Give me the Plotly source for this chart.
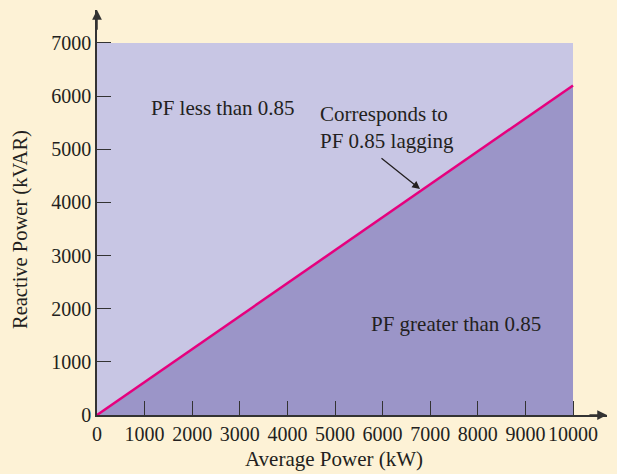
import plotly.graph_objects as go

# Data
x_ticks = [0, 1000, 2000, 3000, 4000, 5000, 6000, 7000, 8000, 9000, 10000]
y_ticks = [0, 1000, 2000, 3000, 4000, 5000, 6000, 7000]
avg_power = [0, 10000]               # kW
reactive_pf085 = [0, 6200]           # kVAR, PF 0.85 lagging
region_x = [0, 10000]
region_y = [0, 7000]

BG = "#fdf2d6"
LIGHT = "#c8c6e4"
DARK = "#9b95c8"
MAG = "#e6007e"
AX = "#333333"
TXT = "#231f20"
FONT = "Liberation Serif"

L, R, T, B = 97, 10, 10, 59
W, H = 617, 474
PW, PH = W - L - R, H - T - B

fig = go.Figure()

fig.add_trace(go.Scatter(
    x=[region_x[0], region_x[1], region_x[1], region_x[0], region_x[0]],
    y=[region_y[0], region_y[0], region_y[1], region_y[1], region_y[0]],
    fill="toself", fillcolor=LIGHT, line=dict(width=0), mode="lines",
    hoverinfo="skip", showlegend=False))

fig.add_trace(go.Scatter(
    x=[avg_power[0], avg_power[1], avg_power[1], avg_power[0]],
    y=[reactive_pf085[0], reactive_pf085[0], reactive_pf085[1], reactive_pf085[0]],
    fill="toself", fillcolor=DARK, line=dict(width=0), mode="lines",
    hoverinfo="skip", showlegend=False))

fig.add_trace(go.Scatter(
    x=avg_power, y=reactive_pf085, mode="lines",
    line=dict(color=MAG, width=2.5), showlegend=False))

x_end = 10714
y_end = 7620

axis_common = dict(showgrid=False, zeroline=False, showline=True, linecolor=AX, linewidth=1.5,
                   ticks="inside", ticklen=14, tickcolor=AX, tickwidth=1.2,
                   automargin=False, tickfont=dict(size=20, color=TXT))

fig.update_layout(
    width=W, height=H,
    margin=dict(l=L, r=R, t=T, b=B),
    paper_bgcolor=BG, plot_bgcolor=BG,
    font=dict(family=FONT, size=18, color=TXT),
    xaxis=dict(range=[0, x_end], tickvals=x_ticks, ticktext=[str(v) for v in x_ticks], **axis_common),
    yaxis=dict(range=[0, y_end], tickvals=y_ticks, ticktext=[str(v) for v in y_ticks], **axis_common),
)

# axis titles
fig.add_annotation(text="Average Power (kW)", xref="paper", yref="paper",
                   x=(334 - L) / PW, y=-(459 - (T + PH)) / PH, showarrow=False,
                   xanchor="center", yanchor="middle",
                   font=dict(size=21, color=TXT))
fig.add_annotation(text="Reactive Power (kVAR)", xref="paper", yref="paper",
                   x=(20 - L) / PW, y=1 - (230 - T) / PH, showarrow=False, textangle=-90,
                   xanchor="center", yanchor="middle",
                   font=dict(size=20.5, color=TXT))

# axis arrows
fig.add_annotation(x=x_end, y=0, ax=x_end - 400, ay=0, xref="x", yref="y", axref="x", ayref="y",
                   showarrow=True, arrowhead=2, arrowsize=1.3, arrowwidth=1.5, arrowcolor=AX, text="")
fig.add_annotation(x=0, y=y_end, ax=0, ay=y_end - 400, xref="x", yref="y", axref="x", ayref="y",
                   showarrow=True, arrowhead=2, arrowsize=1.3, arrowwidth=1.5, arrowcolor=AX, text="")

# text labels
fig.add_annotation(x=2657, y=5777, text="PF less than 0.85", showarrow=False,
                   font=dict(size=21, color=TXT))
fig.add_annotation(x=7542, y=1712, text="PF greater than 0.85", showarrow=False,
                   font=dict(size=21, color=TXT))
fig.add_annotation(x=4643, y=5410, text="Corresponds to<br>PF 0.85 lagging", showarrow=False,
                   xanchor="left", align="left", font=dict(size=21, color=TXT))
fig.add_annotation(x=6786, y=4253, ax=5945, ay=4855, xref="x", yref="y", axref="x", ayref="y",
                   showarrow=True, arrowhead=2, arrowsize=1.2, arrowwidth=1.3, arrowcolor=TXT, text="")

fig.write_html("out.html", config={"displayModeBar": False},
               post_script="document.body.style.margin='0';document.body.style.background='%s';" % BG)
